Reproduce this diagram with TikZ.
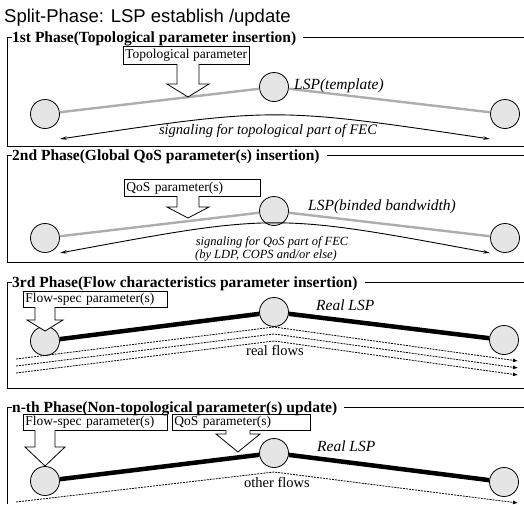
\documentclass[tikz,border=0pt]{standalone}
\usepackage{fontspec}
\setmainfont{Liberation Serif}
\newfontfamily\titlefont{Liberation Sans}
\usetikzlibrary{arrows.meta}

% hollow block arrow: centre x, top y, head y, tip y, shaft half width, head half width
\newcommand\hollowarrow[6]{%
  \draw[blockarrow] ({#1-#5},{#2}) -- ({#1-#5},{#3}) -- ({#1-#6},{#3}) -- ({#1},{#4})
    -- ({#1+#6},{#3}) -- ({#1+#5},{#3}) -- ({#1+#5},{#2});}

\begin{document}
\begin{tikzpicture}[x=1pt,y=-1pt,
  lsr/.style={circle,draw,line width=0.8pt,fill=black!10,minimum size=29pt,inner sep=0pt},
  template/.style={draw=black!32,line width=2.4pt},
  reallsp/.style={line width=4.5pt},
  signal/.style={line width=0.9pt,{Stealth[length=7pt,width=3.5pt]}-{Stealth[length=7pt,width=3.5pt]}},
  flow/.style={line width=0.8pt,dash pattern=on 2pt off 1pt,-{Latex[length=5pt,width=4pt]}},
  parbox/.style={draw,line width=0.8pt,rectangle,inner xsep=2pt,inner ysep=0pt,anchor=north west,
    align=left,font=\fontsize{13.5}{14}\selectfont},
  blockarrow/.style={draw,line width=0.8pt,fill=white,line join=miter},
  frameline/.style={line width=1pt},
  phasehead/.style={font=\bfseries\fontsize{15.5}{17}\selectfont,anchor=west,inner sep=0pt},
  lsplabel/.style={font=\itshape\fontsize{15.5}{17}\selectfont,anchor=west,inner sep=0pt},
  sigtext/.style={font=\itshape\fontsize{14.5}{16}\selectfont,inner sep=0pt},
  sigsmall/.style={font=\itshape\fontsize{12.5}{14}\selectfont,inner sep=0pt},
  flowtext/.style={font=\fontsize{14.5}{16}\selectfont,inner sep=0pt}]
\useasboundingbox (0,0) rectangle (524,504);

% title
\node[anchor=base west,inner sep=0pt,font=\titlefont\fontsize{18.5}{20}\selectfont] (title) at (4,22)
  {Split-Phase: LSP establish /update};

% ---------- 1st phase ----------
\node[phasehead] (h1) at (12,39) {1st Phase(Topological parameter insertion)};
\draw[frameline] (12,37) -- (7,37) -- (7,146) -- (524,146);
\draw[frameline] (h1.east) ++(7,-2) -- (524,37);

\node[lsr] (a1) at (45,114) {};
\node[lsr] (b1) at (274,87) {};
\node[lsr] (c1) at (505,114) {};
\draw[template] (a1) -- (b1) -- (c1);
\node[lsplabel] (l1) at (294,86) {LSP(template)};

\node[parbox,minimum height=18pt] (p1) at (123,46) {Topological parameter};
\hollowarrow{188}{64}{84}{97}{11}{21}

\coordinate (s1l) at (60,139);
\coordinate (s1r) at (490,139);
\draw[signal] (s1l) .. controls (275,107) .. (s1r);
\node[sigtext] (t1) at (268,131) {signaling for topological part of FEC};

% ---------- 2nd phase ----------
\node[phasehead] (h2) at (12,157) {2nd Phase(Global QoS parameter(s) insertion)};
\draw[frameline] (12,155) -- (7,155) -- (7,262) -- (524,262);
\draw[frameline] (h2.east) ++(7,-2) -- (524,155);

\node[lsr] (a2) at (45,238) {};
\node[lsr] (b2) at (274,211) {};
\node[lsr] (c2) at (505,238) {};
\draw[template] (a2) -- (b2) -- (c2);
\node[lsplabel] (l2) at (308,207) {LSP(binded bandwidth)};

\node[parbox,minimum height=17pt,text width=132pt] (p2) at (124,179) {QoS parameter(s)};
\hollowarrow{188}{196}{207}{218}{11}{21}

\coordinate (s2l) at (60,253);
\coordinate (s2r) at (490,253);
\draw[signal] (s2l) .. controls (275,213) .. (s2r);
\node[sigsmall] (t2) at (272,242) {signaling for QoS part of FEC};
\node[sigsmall] (t2b) at (266,256) {(by LDP, COPS and/or else)};

% ---------- 3rd phase ----------
\node[phasehead] (h3) at (12,284) {3rd Phase(Flow characteristics parameter insertion)};
\draw[frameline] (12,282) -- (7,282) -- (7,388) -- (524,388);
\draw[frameline] (h3.east) ++(7,-2) -- (524,282);

\node[lsr] (a3) at (45,341) {};
\node[lsr] (b3) at (274,312) {};
\node[lsr] (c3) at (504,340) {};
\draw[reallsp] (a3) -- (b3) -- (c3);
\node[lsplabel] (l3) at (316,305) {Real LSP};

\node[parbox,minimum height=16pt,text width=140pt] (p3) at (23,291) {Flow-spec parameter(s)};
\hollowarrow{45}{307}{320}{331}{10}{18}

\coordinate (f1s) at (16,359); \coordinate (f1m) at (274,327); \coordinate (f1e) at (518,361);
\coordinate (f2s) at (16,366); \coordinate (f2m) at (274,334); \coordinate (f2e) at (518,368);
\coordinate (f3s) at (16,373); \coordinate (f3m) at (274,341); \coordinate (f3e) at (518,375);
\draw[flow] (f1s) -- (f1m) -- (f1e);
\draw[flow] (f2s) -- (f2m) -- (f2e);
\draw[flow] (f3s) -- (f3m) -- (f3e);
\node[flowtext] (rf) at (275,350) {real flows};

% ---------- n-th phase ----------
\node[phasehead] (h4) at (12,409) {n-th Phase(Non-topological parameter(s) update)};
\draw[frameline] (12,407) -- (7,407) -- (7,504);
\draw[frameline] (h4.east) ++(7,-2) -- (524,407);

\node[lsr] (a4) at (45,481) {};
\node[lsr] (b4) at (274,453) {};
\node[lsr] (c4) at (504,482) {};
\draw[reallsp] (a4) -- (b4) -- (c4);
\node[lsplabel] (l4) at (317,446) {Real LSP};

\node[parbox,minimum height=16pt,text width=140pt] (p4a) at (23,414) {Flow-spec parameter(s)};
\node[parbox,minimum height=16pt,text width=134pt] (p4b) at (172,414) {QoS parameter(s)};
\hollowarrow{45}{430}{447}{466}{10}{20}
\hollowarrow{238}{430}{434}{452}{12}{22}

\coordinate (g1s) at (16,502); \coordinate (g1m) at (274,472); \coordinate (g1e) at (518,503);
\draw[flow] (g1s) -- (g1m) -- (g1e);
\node[flowtext] (of) at (277,482) {other flows};
\end{tikzpicture}
\end{document}
